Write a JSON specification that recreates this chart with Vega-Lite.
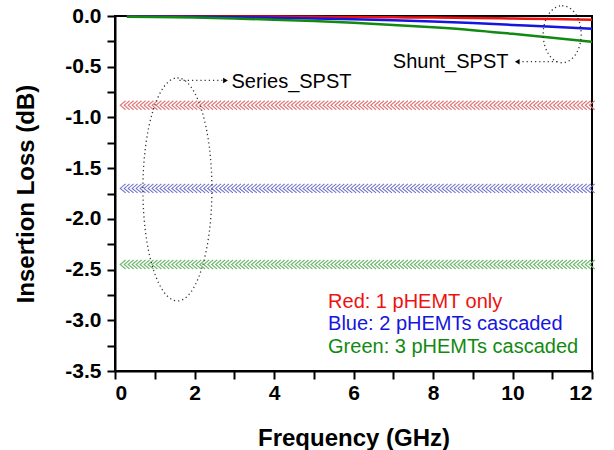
{
  "$schema": "https://vega.github.io/schema/vega-lite/v6.json",
  "autosize": "none",
  "width": 477,
  "height": 355,
  "padding": {"left": 115, "top": 16, "right": 22, "bottom": 79},
  "background": "white",
  "config": {
    "view": {"stroke": "black", "strokeWidth": 2},
    "font": "Liberation Sans"
  },
  "datasets": {
    "series": [
      {"f":0.2,"red":-0.88,"blue":-1.70,"green":-2.45},{"f":0.3,"red":-0.88,"blue":-1.70,"green":-2.45},{"f":0.4,"red":-0.88,"blue":-1.70,"green":-2.45},{"f":0.5,"red":-0.88,"blue":-1.70,"green":-2.45},{"f":0.6,"red":-0.88,"blue":-1.70,"green":-2.45},{"f":0.7,"red":-0.88,"blue":-1.70,"green":-2.45},{"f":0.8,"red":-0.88,"blue":-1.70,"green":-2.45},{"f":0.9,"red":-0.88,"blue":-1.70,"green":-2.45},
      {"f":1.0,"red":-0.88,"blue":-1.70,"green":-2.45},{"f":1.1,"red":-0.88,"blue":-1.70,"green":-2.45},{"f":1.2,"red":-0.88,"blue":-1.70,"green":-2.45},{"f":1.3,"red":-0.88,"blue":-1.70,"green":-2.45},{"f":1.4,"red":-0.88,"blue":-1.70,"green":-2.45},{"f":1.5,"red":-0.88,"blue":-1.70,"green":-2.45},{"f":1.6,"red":-0.88,"blue":-1.70,"green":-2.45},{"f":1.7,"red":-0.88,"blue":-1.70,"green":-2.45},{"f":1.8,"red":-0.88,"blue":-1.70,"green":-2.45},{"f":1.9,"red":-0.88,"blue":-1.70,"green":-2.45},
      {"f":2.0,"red":-0.88,"blue":-1.70,"green":-2.45},{"f":2.1,"red":-0.88,"blue":-1.70,"green":-2.45},{"f":2.2,"red":-0.88,"blue":-1.70,"green":-2.45},{"f":2.3,"red":-0.88,"blue":-1.70,"green":-2.45},{"f":2.4,"red":-0.88,"blue":-1.70,"green":-2.45},{"f":2.5,"red":-0.88,"blue":-1.70,"green":-2.45},{"f":2.6,"red":-0.88,"blue":-1.70,"green":-2.45},{"f":2.7,"red":-0.88,"blue":-1.70,"green":-2.45},{"f":2.8,"red":-0.88,"blue":-1.70,"green":-2.45},{"f":2.9,"red":-0.88,"blue":-1.70,"green":-2.45},
      {"f":3.0,"red":-0.88,"blue":-1.70,"green":-2.45},{"f":3.1,"red":-0.88,"blue":-1.70,"green":-2.45},{"f":3.2,"red":-0.88,"blue":-1.70,"green":-2.45},{"f":3.3,"red":-0.88,"blue":-1.70,"green":-2.45},{"f":3.4,"red":-0.88,"blue":-1.70,"green":-2.45},{"f":3.5,"red":-0.88,"blue":-1.70,"green":-2.45},{"f":3.6,"red":-0.88,"blue":-1.70,"green":-2.45},{"f":3.7,"red":-0.88,"blue":-1.70,"green":-2.45},{"f":3.8,"red":-0.88,"blue":-1.70,"green":-2.45},{"f":3.9,"red":-0.88,"blue":-1.70,"green":-2.45},
      {"f":4.0,"red":-0.88,"blue":-1.70,"green":-2.45},{"f":4.1,"red":-0.88,"blue":-1.70,"green":-2.45},{"f":4.2,"red":-0.88,"blue":-1.70,"green":-2.45},{"f":4.3,"red":-0.88,"blue":-1.70,"green":-2.45},{"f":4.4,"red":-0.88,"blue":-1.70,"green":-2.45},{"f":4.5,"red":-0.88,"blue":-1.70,"green":-2.45},{"f":4.6,"red":-0.88,"blue":-1.70,"green":-2.45},{"f":4.7,"red":-0.88,"blue":-1.70,"green":-2.45},{"f":4.8,"red":-0.88,"blue":-1.70,"green":-2.45},{"f":4.9,"red":-0.88,"blue":-1.70,"green":-2.45},
      {"f":5.0,"red":-0.88,"blue":-1.70,"green":-2.45},{"f":5.1,"red":-0.88,"blue":-1.70,"green":-2.45},{"f":5.2,"red":-0.88,"blue":-1.70,"green":-2.45},{"f":5.3,"red":-0.88,"blue":-1.70,"green":-2.45},{"f":5.4,"red":-0.88,"blue":-1.70,"green":-2.45},{"f":5.5,"red":-0.88,"blue":-1.70,"green":-2.45},{"f":5.6,"red":-0.88,"blue":-1.70,"green":-2.45},{"f":5.7,"red":-0.88,"blue":-1.70,"green":-2.45},{"f":5.8,"red":-0.88,"blue":-1.70,"green":-2.45},{"f":5.9,"red":-0.88,"blue":-1.70,"green":-2.45},
      {"f":6.0,"red":-0.88,"blue":-1.70,"green":-2.45},{"f":6.1,"red":-0.88,"blue":-1.70,"green":-2.45},{"f":6.2,"red":-0.88,"blue":-1.70,"green":-2.45},{"f":6.3,"red":-0.88,"blue":-1.70,"green":-2.45},{"f":6.4,"red":-0.88,"blue":-1.70,"green":-2.45},{"f":6.5,"red":-0.88,"blue":-1.70,"green":-2.45},{"f":6.6,"red":-0.88,"blue":-1.70,"green":-2.45},{"f":6.7,"red":-0.88,"blue":-1.70,"green":-2.45},{"f":6.8,"red":-0.88,"blue":-1.70,"green":-2.45},{"f":6.9,"red":-0.88,"blue":-1.70,"green":-2.45},
      {"f":7.0,"red":-0.88,"blue":-1.70,"green":-2.45},{"f":7.1,"red":-0.88,"blue":-1.70,"green":-2.45},{"f":7.2,"red":-0.88,"blue":-1.70,"green":-2.45},{"f":7.3,"red":-0.88,"blue":-1.70,"green":-2.45},{"f":7.4,"red":-0.88,"blue":-1.70,"green":-2.45},{"f":7.5,"red":-0.88,"blue":-1.70,"green":-2.45},{"f":7.6,"red":-0.88,"blue":-1.70,"green":-2.45},{"f":7.7,"red":-0.88,"blue":-1.70,"green":-2.45},{"f":7.8,"red":-0.88,"blue":-1.70,"green":-2.45},{"f":7.9,"red":-0.88,"blue":-1.70,"green":-2.45},
      {"f":8.0,"red":-0.88,"blue":-1.70,"green":-2.45},{"f":8.1,"red":-0.88,"blue":-1.70,"green":-2.45},{"f":8.2,"red":-0.88,"blue":-1.70,"green":-2.45},{"f":8.3,"red":-0.88,"blue":-1.70,"green":-2.45},{"f":8.4,"red":-0.88,"blue":-1.70,"green":-2.45},{"f":8.5,"red":-0.88,"blue":-1.70,"green":-2.45},{"f":8.6,"red":-0.88,"blue":-1.70,"green":-2.45},{"f":8.7,"red":-0.88,"blue":-1.70,"green":-2.45},{"f":8.8,"red":-0.88,"blue":-1.70,"green":-2.45},{"f":8.9,"red":-0.88,"blue":-1.70,"green":-2.45},
      {"f":9.0,"red":-0.88,"blue":-1.70,"green":-2.45},{"f":9.1,"red":-0.88,"blue":-1.70,"green":-2.45},{"f":9.2,"red":-0.88,"blue":-1.70,"green":-2.45},{"f":9.3,"red":-0.88,"blue":-1.70,"green":-2.45},{"f":9.4,"red":-0.88,"blue":-1.70,"green":-2.45},{"f":9.5,"red":-0.88,"blue":-1.70,"green":-2.45},{"f":9.6,"red":-0.88,"blue":-1.70,"green":-2.45},{"f":9.7,"red":-0.88,"blue":-1.70,"green":-2.45},{"f":9.8,"red":-0.88,"blue":-1.70,"green":-2.45},{"f":9.9,"red":-0.88,"blue":-1.70,"green":-2.45},
      {"f":10.0,"red":-0.88,"blue":-1.70,"green":-2.45},{"f":10.1,"red":-0.88,"blue":-1.70,"green":-2.45},{"f":10.2,"red":-0.88,"blue":-1.70,"green":-2.45},{"f":10.3,"red":-0.88,"blue":-1.70,"green":-2.45},{"f":10.4,"red":-0.88,"blue":-1.70,"green":-2.45},{"f":10.5,"red":-0.88,"blue":-1.70,"green":-2.45},{"f":10.6,"red":-0.88,"blue":-1.70,"green":-2.45},{"f":10.7,"red":-0.88,"blue":-1.70,"green":-2.45},{"f":10.8,"red":-0.88,"blue":-1.70,"green":-2.45},{"f":10.9,"red":-0.88,"blue":-1.70,"green":-2.45},
      {"f":11.0,"red":-0.88,"blue":-1.70,"green":-2.45},{"f":11.1,"red":-0.88,"blue":-1.70,"green":-2.45},{"f":11.2,"red":-0.88,"blue":-1.70,"green":-2.45},{"f":11.3,"red":-0.88,"blue":-1.70,"green":-2.45},{"f":11.4,"red":-0.88,"blue":-1.70,"green":-2.45},{"f":11.5,"red":-0.88,"blue":-1.70,"green":-2.45},{"f":11.6,"red":-0.88,"blue":-1.70,"green":-2.45},{"f":11.7,"red":-0.88,"blue":-1.70,"green":-2.45},{"f":11.8,"red":-0.88,"blue":-1.70,"green":-2.45},{"f":11.9,"red":-0.88,"blue":-1.70,"green":-2.45},
      {"f":12.0,"red":-0.88,"blue":-1.70,"green":-2.45}
    ],
    "shunt": [
      {"f":0.3,"red":-0.003,"blue":-0.004,"green":-0.008},
      {"f":1,"red":-0.003,"blue":-0.005,"green":-0.010},
      {"f":2,"red":-0.004,"blue":-0.008,"green":-0.016},
      {"f":3,"red":-0.005,"blue":-0.012,"green":-0.025},
      {"f":4,"red":-0.006,"blue":-0.018,"green":-0.036},
      {"f":5,"red":-0.008,"blue":-0.024,"green":-0.050},
      {"f":6,"red":-0.010,"blue":-0.032,"green":-0.067},
      {"f":7,"red":-0.013,"blue":-0.042,"green":-0.088},
      {"f":8,"red":-0.016,"blue":-0.054,"green":-0.112},
      {"f":9,"red":-0.020,"blue":-0.070,"green":-0.140},
      {"f":10,"red":-0.025,"blue":-0.088,"green":-0.176},
      {"f":11,"red":-0.030,"blue":-0.106,"green":-0.214},
      {"f":12,"red":-0.036,"blue":-0.126,"green":-0.255}
    ]
  },
  "encoding": {
    "x": {"field": "f", "type": "quantitative", "scale": {"domain": [0, 12], "nice": false},
      "axis": {"title": "Frequency (GHz)", "values": [0,1,2,3,4,5,6,7,8,9,10,11,12],
        "ticks": true, "tickSize": 8, "tickWidth": 2, "tickColor": "black",
        "domainColor": "black", "domainWidth": 2, "grid": false,
        "labelFont": "Liberation Sans", "labelFontWeight": "bold", "labelFontSize": 21, "labelColor": "black",
        "titleFont": "Liberation Sans", "titleFontWeight": "bold", "titleFontSize": 24, "titleColor": "black",
        "labelExpr": "datum.value % 2 === 0 ? datum.label : ''", "labelPadding": 3, "titlePadding": 23,
        "encode": {"ticks": {"update": {"y2": {"signal": "datum.value % 2 === 0 ? 8 : 5"}}}}}},
    "y": {"field": "v", "type": "quantitative", "scale": {"domain": [-3.5, 0], "nice": false},
      "axis": {"title": "Insertion Loss (dB)", "values": [-3.5,-3.25,-3,-2.75,-2.5,-2.25,-2,-1.75,-1.5,-1.25,-1,-0.75,-0.5,-0.25,0],
        "ticks": true, "tickSize": 8, "tickWidth": 2, "tickColor": "black",
        "domainColor": "black", "domainWidth": 2, "grid": false,
        "labelFont": "Liberation Sans", "labelFontWeight": "bold", "labelFontSize": 21, "labelColor": "black",
        "titleFont": "Liberation Sans", "titleFontWeight": "bold", "titleFontSize": 24, "titleColor": "black",
        "labelExpr": "abs(datum.value*2 - round(datum.value*2)) < 0.001 ? ((datum.value < 0 ? '-' : '') + format(abs(datum.value), '.1f')) : ''",
        "labelPadding": 6, "titlePadding": 26,
        "encode": {"ticks": {"update": {"x2": {"signal": "abs(datum.value*2 - round(datum.value*2)) < 0.001 ? -8 : -5"}}}}}}
  },
  "layer": [
    {
      "data": {"name": "series"},
      "transform": [{"fold": ["red", "blue", "green"], "as": ["s", "v"]}],
      "mark": {"type": "point", "shape": "M0.6,-1L-0.6,0L0.6,1", "filled": false, "size": 81, "strokeWidth": 1.1, "opacity": 1},
      "encoding": {
        "color": {"field": "s", "type": "nominal", "scale": {"domain": ["red", "blue", "green"], "range": ["#e07777", "#7272cc", "#6db86d"]}, "legend": null}
      }
    },
    {
      "data": {"name": "shunt"},
      "transform": [{"fold": ["red", "blue", "green"], "as": ["s", "v"]}],
      "mark": {"type": "line", "strokeWidth": 2.5, "interpolate": "monotone"},
      "encoding": {
        "color": {"field": "s", "type": "nominal", "scale": {"domain": ["red", "blue", "green"], "range": ["#ee1111", "#1515e0", "#128a12"]}, "legend": null},
        "order": {"field": "f", "type": "quantitative"}
      }
    },
    {
      "data": {"values": [{"f": 1.57, "v": -1.71}]},
      "mark": {"type": "point", "shape": "M0,-1A0.3094,1 0 1,1 0,1A0.3094,1 0 1,1 0,-1", "filled": false, "size": 49729, "strokeWidth": 1.3, "strokeDash": [1.2, 3], "color": "#333333", "opacity": 1}
    },
    {
      "data": {"values": [{"f": 11.25, "v": -0.18}]},
      "mark": {"type": "point", "shape": "M0,-1A0.667,1 0 1,1 0,1A0.667,1 0 1,1 0,-1", "filled": false, "size": 3249, "strokeWidth": 1.3, "strokeDash": [1.2, 3], "color": "#333333", "opacity": 1}
    },
    {
      "data": {"values": [{"f": 1.62, "f2": 2.7, "v": -0.635}, {"f": 10.25, "f2": 11.13, "v": -0.45}]},
      "mark": {"type": "rule", "strokeWidth": 1.3, "strokeDash": [1.2, 3], "color": "#333333"},
      "encoding": {"x2": {"field": "f2"}}
    },
    {
      "data": {"values": [{"f": 2.78, "v": -0.635, "dir": "right"}, {"f": 10.12, "v": -0.45, "dir": "left"}]},
      "mark": {"type": "point", "filled": true, "size": 30, "color": "black", "opacity": 1},
      "encoding": {"shape": {"field": "dir", "type": "nominal", "scale": {"domain": ["right", "left"], "range": ["triangle-right", "triangle-left"]}, "legend": null}}
    },
    {
      "data": {"values": [{"f": 2.93, "v": -0.655, "label": "Series_SPST"}, {"f": 6.99, "v": -0.45, "label": "Shunt_SPST"}]},
      "mark": {"type": "text", "align": "left", "baseline": "middle", "fontSize": 20, "font": "Liberation Sans", "color": "black"},
      "encoding": {"text": {"field": "label"}}
    },
    {
      "data": {"values": [
        {"f": 5.36, "v": -2.815, "s": "red", "label": "Red: 1 pHEMT only"},
        {"f": 5.36, "v": -3.04, "s": "blue", "label": "Blue: 2 pHEMTs cascaded"},
        {"f": 5.36, "v": -3.265, "s": "green", "label": "Green: 3 pHEMTs cascaded"}
      ]},
      "mark": {"type": "text", "align": "left", "baseline": "middle", "fontSize": 20, "font": "Liberation Sans"},
      "encoding": {
        "text": {"field": "label"},
        "color": {"field": "s", "type": "nominal", "scale": {"domain": ["red", "blue", "green"], "range": ["#ee1111", "#1515e0", "#128a12"]}, "legend": null}
      }
    }
  ],
  "resolve": {"scale": {"color": "independent"}}
}
